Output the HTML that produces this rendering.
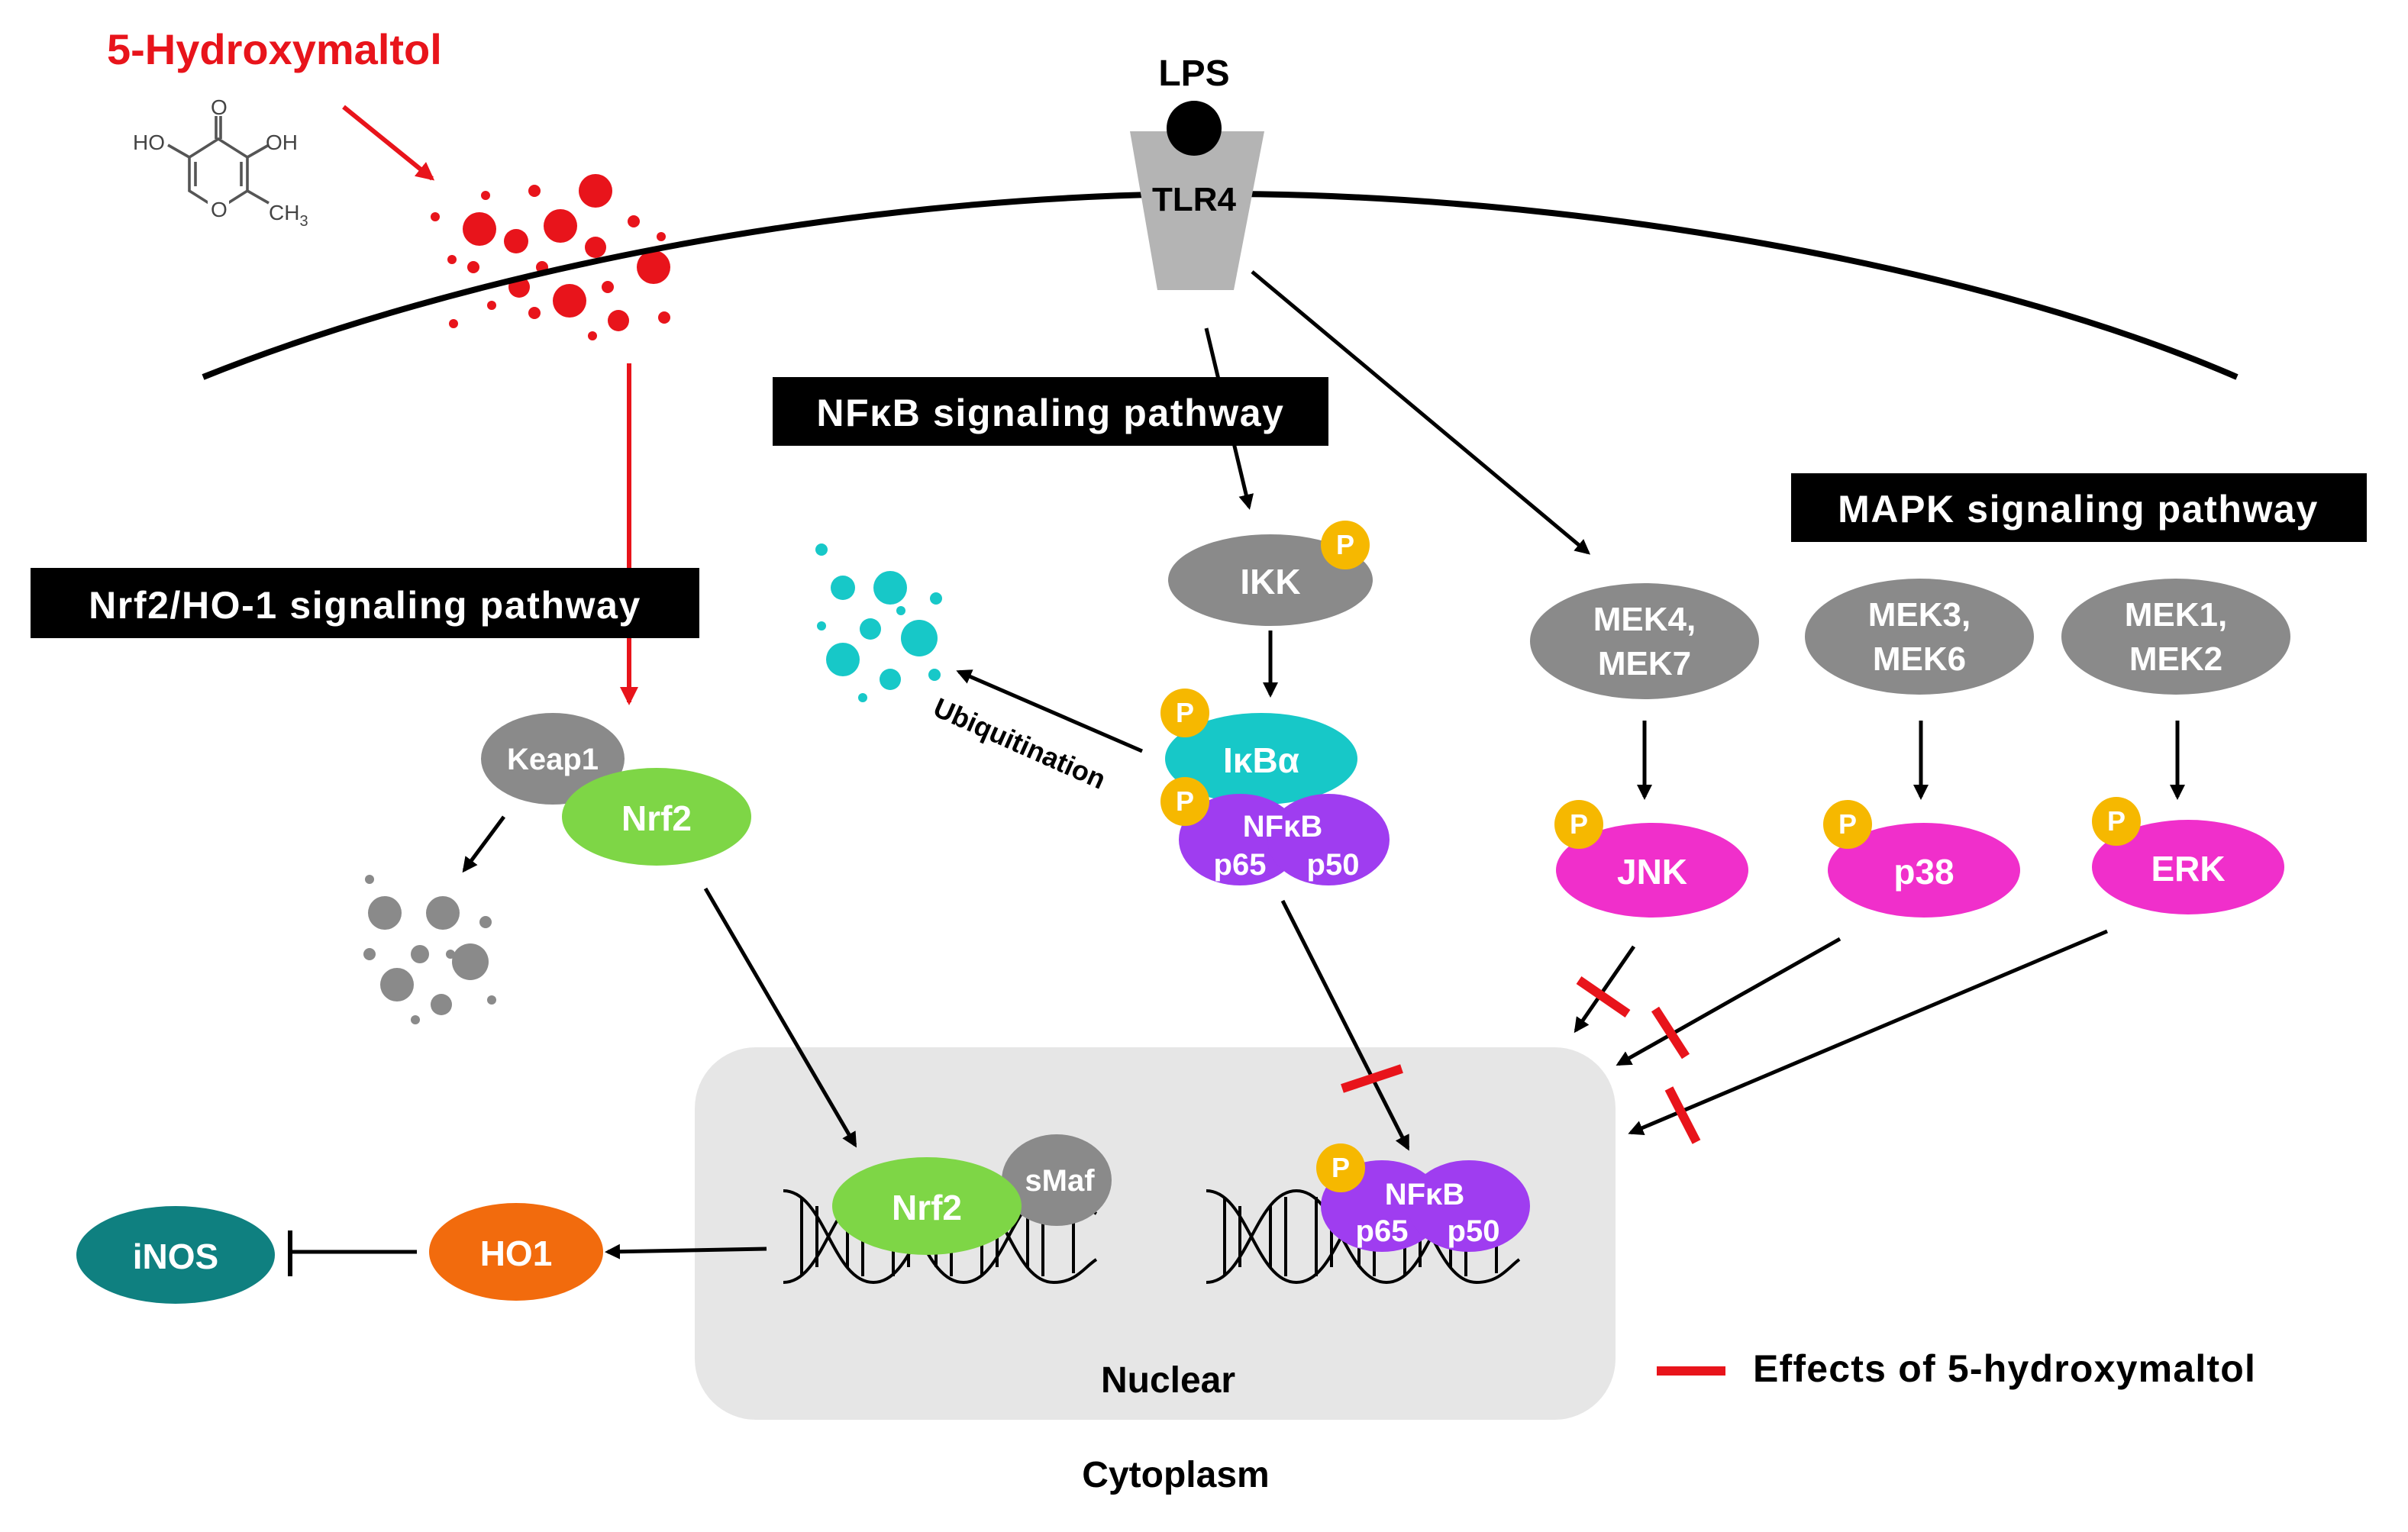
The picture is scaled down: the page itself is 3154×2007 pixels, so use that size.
<!DOCTYPE html>
<html><head><meta charset="utf-8"><style>
html,body{margin:0;padding:0;background:#fff}
svg{display:block}
text{font-family:"Liberation Sans",sans-serif;font-weight:bold}
</style></head><body>
<svg width="3154" height="2007" viewBox="0 0 1577 1003.5" xmlns="http://www.w3.org/2000/svg">
<defs>
<marker id="ab" markerWidth="10" markerHeight="10" refX="8" refY="5" orient="auto" markerUnits="userSpaceOnUse"><path d="M0,0 L10,5 L0,10 z" fill="#000"/></marker>
<marker id="ar" markerWidth="12" markerHeight="12" refX="10" refY="6" orient="auto" markerUnits="userSpaceOnUse"><path d="M0,0 L12,6 L0,12 z" fill="#e8141b"/></marker>
</defs>
<rect width="1577" height="1003.5" fill="#fff"/>

<!-- Nuclear -->
<rect x="455" y="686" width="603" height="244" rx="40" fill="#e6e6e6"/>
<text x="765" y="912" font-size="24" text-anchor="middle">Nuclear</text>
<text x="770" y="974" font-size="24" text-anchor="middle">Cytoplasm</text>
<text x="1148" y="905" font-size="25" letter-spacing="0.6">Effects of 5-hydroxymaltol</text>

<!-- title & molecule -->
<text x="70" y="42" font-size="28" fill="#e8141b">5-Hydroxymaltol</text>
<g stroke="#555" stroke-width="1.8" fill="none">
<path d="M143,91 L162,103 L162,125 L143,137 L124,125 L124,103 Z"/>
<line x1="141.5" y1="91" x2="141.5" y2="76"/><line x1="144.5" y1="91" x2="144.5" y2="76"/>
<line x1="124" y1="103" x2="110" y2="95"/><line x1="162" y1="103" x2="176" y2="95"/>
<line x1="162" y1="125" x2="176" y2="133"/>
<line x1="128" y1="106" x2="128" y2="122"/><line x1="158" y1="106" x2="158" y2="122"/>
</g>
<rect x="136" y="130" width="14" height="14" fill="#fff"/>
<g fill="#444" font-size="14">
<text x="138" y="75" style="font-weight:normal">O</text>
<text x="87" y="98" style="font-weight:normal">HO</text>
<text x="174" y="98" style="font-weight:normal">OH</text>
<text x="138" y="142" style="font-weight:normal">O</text>
<text x="176" y="144" style="font-weight:normal">CH<tspan font-size="10" dy="4">3</tspan></text>
</g>
<line x1="225" y1="70" x2="283" y2="117" stroke="#e8141b" stroke-width="3" marker-end="url(#ar)"/>

<!-- red dots -->
<g fill="#e8141b">
<circle cx="390" cy="125" r="11"/><circle cx="314" cy="150" r="11"/><circle cx="367" cy="148" r="11"/>
<circle cx="338" cy="158" r="8"/><circle cx="390" cy="162" r="7"/><circle cx="428" cy="175" r="11"/>
<circle cx="373" cy="197" r="11"/><circle cx="340" cy="188" r="7"/><circle cx="405" cy="210" r="7"/>
<circle cx="310" cy="175" r="4"/><circle cx="285" cy="142" r="3"/><circle cx="296" cy="170" r="3"/>
<circle cx="350" cy="125" r="4"/><circle cx="415" cy="145" r="4"/><circle cx="433" cy="155" r="3"/>
<circle cx="318" cy="128" r="3"/><circle cx="435" cy="208" r="4"/><circle cx="297" cy="212" r="3"/>
<circle cx="350" cy="205" r="4"/><circle cx="388" cy="220" r="3"/><circle cx="322" cy="200" r="3"/>
<circle cx="398" cy="188" r="4"/><circle cx="355" cy="175" r="4"/>
</g>

<!-- membrane -->
<path d="M133,247 C300,180 550,128 790,127 C1030,126 1300,175 1465,247" fill="none" stroke="#000" stroke-width="4"/>

<!-- TLR4 -->
<path d="M740,86 L828,86 L808,190 L758,190 Z" fill="#b4b4b4"/>
<circle cx="782" cy="84" r="18" fill="#000"/>
<text x="782" y="56" font-size="24" text-anchor="middle">LPS</text>
<text x="782" y="138" font-size="22" text-anchor="middle">TLR4</text>

<!-- red vertical arrow -->
<line x1="412" y1="238" x2="412" y2="460" stroke="#e8141b" stroke-width="3" marker-end="url(#ar)"/>

<g stroke="#000" stroke-width="2.5" fill="none">
<line x1="790" y1="215" x2="818" y2="332" marker-end="url(#ab)"/>
<line x1="820" y1="178" x2="1040" y2="362" marker-end="url(#ab)"/>
<line x1="832" y1="413" x2="832" y2="455" marker-end="url(#ab)"/>
<line x1="748" y1="492" x2="628" y2="440" marker-end="url(#ab)"/>
<line x1="330" y1="535" x2="304" y2="570" marker-end="url(#ab)"/>
<line x1="462" y1="582" x2="560" y2="750" marker-end="url(#ab)"/>
<line x1="840" y1="590" x2="922" y2="752" marker-end="url(#ab)"/>
<line x1="1077" y1="472" x2="1077" y2="522" marker-end="url(#ab)"/>
<line x1="1258" y1="472" x2="1258" y2="522" marker-end="url(#ab)"/>
<line x1="1426" y1="472" x2="1426" y2="522" marker-end="url(#ab)"/>
<line x1="1070" y1="620" x2="1032" y2="675" marker-end="url(#ab)"/>
<line x1="1205" y1="615" x2="1060" y2="697" marker-end="url(#ab)"/>
<line x1="1380" y1="610" x2="1068" y2="742" marker-end="url(#ab)"/>
<line x1="502" y1="818" x2="398" y2="820" marker-end="url(#ab)"/>
<line x1="273" y1="820" x2="190" y2="820"/>
<line x1="190" y1="806" x2="190" y2="836" stroke-width="3"/>
</g>

<!-- pathway boxes -->
<rect x="20" y="372" width="438" height="46" fill="#000"/>
<text x="239" y="405" font-size="25" fill="#fff" text-anchor="middle" letter-spacing="0.8">Nrf2/HO-1 signaling pathway</text>
<rect x="506" y="247" width="364" height="45" fill="#000"/>
<text x="688" y="279" font-size="25" fill="#fff" text-anchor="middle" letter-spacing="0.8">NFκB signaling pathway</text>
<rect x="1173" y="310" width="377" height="45" fill="#000"/>
<text x="1361" y="342" font-size="25" fill="#fff" text-anchor="middle" letter-spacing="0.8">MAPK signaling pathway</text>

<!-- red bars -->
<g stroke="#e8141b" stroke-width="6">
<line x1="1034" y1="642" x2="1066" y2="664"/>
<line x1="1084" y1="661" x2="1104" y2="692"/>
<line x1="1093" y1="713" x2="1111" y2="748"/>
<line x1="879" y1="713" x2="918" y2="700"/>
<line x1="1085" y1="898" x2="1130" y2="898"/>
</g>

<!-- DNA -->
<g stroke="#000" stroke-width="2" fill="none">
<path d="M513,780 C540,780 545,840 572,840 C599,840 604,780 631,780 C658,780 663,840 690,840 C705,840 710,830 718,825"/>
<path d="M513,840 C540,840 545,780 572,780 C599,780 604,840 631,840 C658,840 663,780 690,780 C705,780 710,790 718,795"/>
<path d="M790,780 C817,780 822,840 849,840 C876,840 881,780 908,780 C935,780 940,840 967,840 C982,840 988,830 995,825"/>
<path d="M790,840 C817,840 822,780 849,780 C876,780 881,840 908,840 C935,840 940,780 967,780 C982,780 988,790 995,795"/>
<path d="M525,784 V836 M535,790 V830 M555,790 V830 M565,784 V836 M585,784 V836 M595,790 V830 M613,790 V830 M623,784 V836 M643,784 V836 M653,790 V830 M673,790 V830 M683,784 V836 M703,786 V834"/>
<path d="M802,784 V836 M812,790 V830 M832,790 V830 M842,784 V836 M862,784 V836 M872,790 V830 M890,790 V830 M900,784 V836 M920,784 V836 M930,790 V830 M950,790 V830 M960,784 V836 M980,786 V834"/>
</g>

<!-- teal & gray dots -->
<g fill="#17c8c8">
<circle cx="583" cy="385" r="11"/><circle cx="552" cy="385" r="8"/><circle cx="602" cy="418" r="12"/>
<circle cx="570" cy="412" r="7"/><circle cx="552" cy="432" r="11"/><circle cx="583" cy="445" r="7"/>
<circle cx="538" cy="360" r="4"/><circle cx="613" cy="392" r="4"/><circle cx="538" cy="410" r="3"/>
<circle cx="612" cy="442" r="4"/><circle cx="565" cy="457" r="3"/><circle cx="590" cy="400" r="3"/>
</g>
<g fill="#8a8a8a">
<circle cx="252" cy="598" r="11"/><circle cx="290" cy="598" r="11"/><circle cx="308" cy="630" r="12"/>
<circle cx="260" cy="645" r="11"/><circle cx="289" cy="658" r="7"/><circle cx="275" cy="625" r="6"/>
<circle cx="242" cy="576" r="3"/><circle cx="318" cy="604" r="4"/><circle cx="242" cy="625" r="4"/>
<circle cx="272" cy="668" r="3"/><circle cx="322" cy="655" r="3"/><circle cx="295" cy="625" r="3"/>
</g>

<!-- Keap1 / Nrf2 -->
<ellipse cx="362" cy="497" rx="47" ry="30" fill="#8a8a8a"/>
<text x="362" y="504" font-size="20" fill="#fff" text-anchor="middle">Keap1</text>
<ellipse cx="430" cy="535" rx="62" ry="32" fill="#7ed646"/>
<text x="430" y="544" font-size="23" fill="#fff" text-anchor="middle">Nrf2</text>

<!-- IKK -->
<ellipse cx="832" cy="380" rx="67" ry="30" fill="#8a8a8a"/>
<text x="832" y="389" font-size="23" fill="#fff" text-anchor="middle">IKK</text>
<!-- IkBa -->
<ellipse cx="826" cy="497" rx="63" ry="30" fill="#17c8c8"/>
<text x="826" y="506" font-size="23" fill="#fff" text-anchor="middle">IκBα</text>
<ellipse cx="812" cy="550" rx="40" ry="30" fill="#9f3df0"/>
<ellipse cx="870" cy="550" rx="40" ry="30" fill="#9f3df0"/>
<text x="840" y="548" font-size="20" fill="#fff" text-anchor="middle">NFκB</text>
<text x="812" y="573" font-size="20" fill="#fff" text-anchor="middle">p65</text>
<text x="873" y="573" font-size="20" fill="#fff" text-anchor="middle">p50</text>
<text x="610" y="468" font-size="18" transform="rotate(24 610 468)">Ubiquitination</text>

<!-- MEKs -->
<g fill="#8a8a8a">
<ellipse cx="1077" cy="420" rx="75" ry="38"/><ellipse cx="1257" cy="417" rx="75" ry="38"/><ellipse cx="1425" cy="417" rx="75" ry="38"/>
</g>
<g font-size="22" fill="#fff" text-anchor="middle">
<text x="1077" y="413">MEK4,</text><text x="1077" y="442">MEK7</text>
<text x="1257" y="410">MEK3,</text><text x="1257" y="439">MEK6</text>
<text x="1425" y="410">MEK1,</text><text x="1425" y="439">MEK2</text>
</g>
<g fill="#f02fcb">
<ellipse cx="1082" cy="570" rx="63" ry="31"/><ellipse cx="1260" cy="570" rx="63" ry="31"/><ellipse cx="1433" cy="568" rx="63" ry="31"/>
</g>
<g font-size="23" fill="#fff" text-anchor="middle">
<text x="1082" y="579">JNK</text><text x="1260" y="579">p38</text><text x="1433" y="577">ERK</text>
</g>

<!-- nuclear proteins -->
<ellipse cx="692" cy="773" rx="36" ry="30" fill="#8a8a8a"/>
<text x="694" y="780" font-size="20" fill="#fff" text-anchor="middle">sMaf</text>
<ellipse cx="607" cy="790" rx="62" ry="32" fill="#7ed646"/>
<text x="607" y="799" font-size="23" fill="#fff" text-anchor="middle">Nrf2</text>
<ellipse cx="905" cy="790" rx="40" ry="30" fill="#9f3df0"/>
<ellipse cx="962" cy="790" rx="40" ry="30" fill="#9f3df0"/>
<text x="933" y="789" font-size="20" fill="#fff" text-anchor="middle">NFκB</text>
<text x="905" y="813" font-size="20" fill="#fff" text-anchor="middle">p65</text>
<text x="965" y="813" font-size="20" fill="#fff" text-anchor="middle">p50</text>

<ellipse cx="338" cy="820" rx="57" ry="32" fill="#f26b0d"/>
<text x="338" y="829" font-size="23" fill="#fff" text-anchor="middle">HO1</text>
<ellipse cx="115" cy="822" rx="65" ry="32" fill="#0f8080"/>
<text x="115" y="831" font-size="23" fill="#fff" text-anchor="middle">iNOS</text>

<!-- P circles -->
<g fill="#f6b800">
<circle cx="881" cy="357" r="16"/><circle cx="776" cy="467" r="16"/><circle cx="776" cy="525" r="16"/>
<circle cx="1034" cy="540" r="16"/><circle cx="1210" cy="540" r="16"/><circle cx="1386" cy="538" r="16"/>
<circle cx="878" cy="765" r="16"/>
</g>
<g font-size="18" fill="#fff" text-anchor="middle">
<text x="881" y="363">P</text><text x="776" y="473">P</text><text x="776" y="531">P</text>
<text x="1034" y="546">P</text><text x="1210" y="546">P</text><text x="1386" y="544">P</text>
<text x="878" y="771">P</text>
</g>
</svg>
</body></html>
